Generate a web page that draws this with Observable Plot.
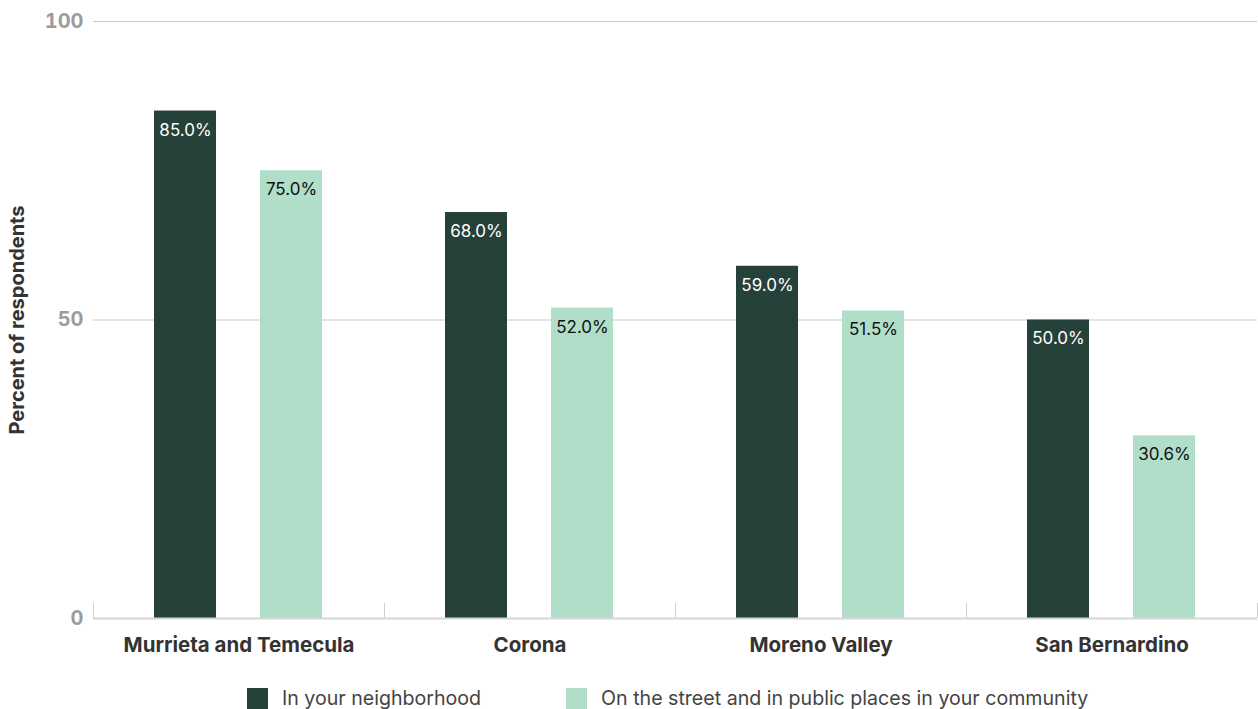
<!DOCTYPE html>
<html>
<head>
<meta charset="utf-8">
<script src="https://cdn.jsdelivr.net/npm/d3@7"></script>
<script src="https://cdn.jsdelivr.net/npm/@observablehq/plot@0.6"></script>
<style>
  html, body { margin: 0; padding: 0; background: #fff; }
  body { width: 1258px; height: 709px; overflow: hidden; font-family: Inter, "Noto Sans", sans-serif; }
  #chart svg { display: block; }
  .legend { display: flex; align-items: center; height: 22px; margin-top: 17px; padding-left: 247px; font-size: 19.6px; color: #444; }
  .legend .item { display: flex; align-items: center; }
  .legend .sw { width: 21px; height: 21px; margin-right: 14px; }
  .legend .item + .item { margin-left: 85px; }
</style>
</head>
<body>
<div id="chart"></div>
<div class="legend" id="legend"></div>
<script>
const cities = ["Murrieta and Temecula", "Corona", "Moreno Valley", "San Bernardino"];
const seriesNames = ["In your neighborhood", "On the street and in public places in your community"];
const neighborhood = [85.0, 68.0, 59.0, 50.0];
const publicPlaces = [75.0, 52.0, 51.5, 30.6];
const yTicks = [0, 50, 100];
const colors = ["#26403a", "#b0dec9"];
const labelColors = ["#ffffff", "#111111"];

const data = [];
cities.forEach((c, i) => {
  data.push({city: c, series: seriesNames[0], value: neighborhood[i]});
  data.push({city: c, series: seriesNames[1], value: publicPlaces[i]});
});

const W = 1258, H = 670;
const chart = Plot.plot({
  width: W,
  height: H,
  marginLeft: 93,
  marginRight: 1,
  marginTop: 21,
  marginBottom: 52,
  style: {fontFamily: "Inter, 'Noto Sans', sans-serif", background: "#fff"},
  fx: {domain: cities, padding: 0, label: null},
  x: {domain: seriesNames, axis: null, paddingInner: 0.415, paddingOuter: 0.58},
  y: {domain: [0, 100], label: null},
  color: {domain: seriesNames, range: colors},
  marks: [
    Plot.ruleY([50, 100], {stroke: "#c8c8c8", strokeWidth: 1}),
    Plot.barY(data, {fx: "city", x: "series", y: "value", fill: "series"}),
    Plot.ruleY([0], {stroke: "#d6d6d6", strokeWidth: 2}),
    Plot.text(data, {
      fx: "city", x: "series", y: "value",
      text: d => d.value.toFixed(1) + "%",
      dy: 19, fontSize: 17,
      fill: d => labelColors[seriesNames.indexOf(d.series)]
    }),
    Plot.axisY(yTicks, {
      anchor: "left", tickSize: 0, tickPadding: 10, label: null,
      fontSize: 20, fontWeight: "bold", fill: "#9c9c9c"
    }),
    Plot.axisY({
      anchor: "left", ticks: [], tickSize: 0, label: "Percent of respondents",
      labelAnchor: "center", labelArrow: "none", labelOffset: 84,
      fontSize: 20, fontWeight: "bold", fill: "#333"
    }),
    Plot.axisFx({
      anchor: "bottom", tickSize: 0, tickPadding: 19, label: null,
      fontSize: 20.5, fontWeight: "bold", fill: "#333"
    })
  ]
});
document.getElementById("chart").appendChild(chart);

// group boundary ticks using the plot's fx scale
const fx = chart.scale("fx");
const yS = chart.scale("y");
const svg = d3.select(chart);
const y0 = yS.apply(0);
const edges = cities.map(c => fx.apply(c)).concat([fx.apply(cities[cities.length - 1]) + fx.bandwidth]);
svg.append("g").selectAll("line").data(edges).join("line")
  .attr("x1", d => Math.min(d, W - 1) + 0.5).attr("x2", d => Math.min(d, W - 1) + 0.5)
  .attr("y1", y0 - 15).attr("y2", y0)
  .attr("stroke", "#cfcfcf").attr("stroke-width", 1);

const legend = document.getElementById("legend");
seriesNames.forEach((s, i) => {
  const item = document.createElement("div");
  item.className = "item";
  item.innerHTML = `<span class="sw" style="background:${colors[i]}"></span><span>${s}</span>`;
  legend.appendChild(item);
});
</script>
</body>
</html>
